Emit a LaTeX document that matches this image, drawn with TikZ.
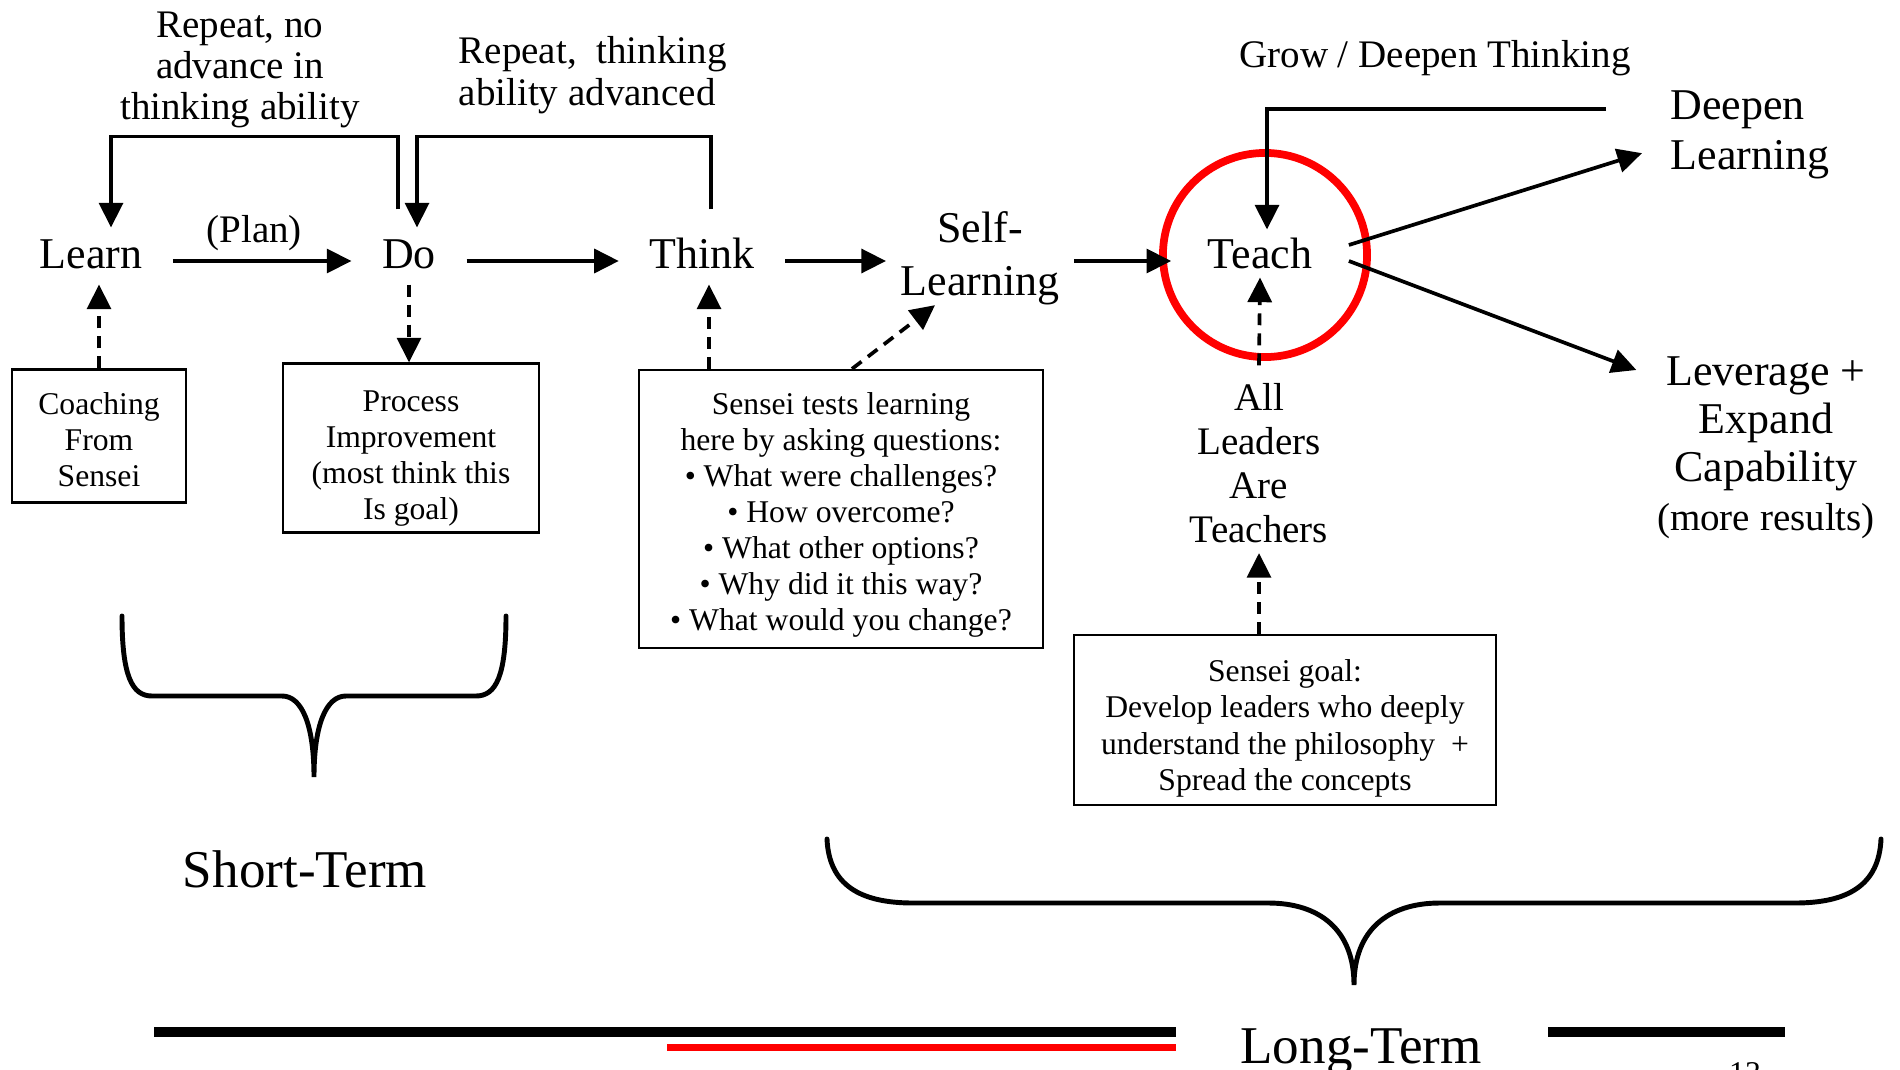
\documentclass[tikz,border=0pt]{standalone}
\usepackage{fontspec}
\setmainfont{Liberation Serif}
\usetikzlibrary{arrows.meta,calc}
\begin{document}
\begin{tikzpicture}[x=0.01cm,y=-0.01cm,
  stage/.style={font=\fontsize{12.5}{14.8}\selectfont, inner xsep=0.3cm, inner ysep=0pt,
    text height=8.5pt, text depth=4.5pt},
  bigtxt/.style={font=\fontsize{12.5}{14.5}\selectfont, inner sep=0pt},
  labtxt/.style={font=\fontsize{11.1}{11.4}\selectfont, inner sep=0pt},
  boxtxt/.style={draw, line width=0.6pt, inner sep=0pt, align=center,
    font=\fontsize{9}{10.25}\selectfont},
  termtxt/.style={font=\fontsize{15.1}{17}\selectfont, inner sep=0pt},
  arr/.style={line width=1.05pt, -{Triangle[length=7pt,width=6.8pt]}},
  darr/.style={arr, dash pattern=on 3.4pt off 2.3pt},
  brace/.style={line width=1.4pt, line cap=round},
  bar/.style={line width=2.85pt}
]
\useasboundingbox (0,0) rectangle (1900,1070);

% main row (multi-line nodes are placed by the baseline of their last line)
\node[stage] (learn) at (91,261) {Learn};
\node[stage] (do) at (409,261) {Do};
\node[stage] (think) at (702,261) {Think};
\node[bigtxt, align=center, anchor=base, inner xsep=0.14cm, font=\fontsize{12.5}{14.8}\selectfont] (self) at (980,295) {Self-\\Learning};
\node[stage, inner xsep=0.36cm] (teach) at (1260,261) {Teach};
\node[draw=red, line width=2.2pt, circle, minimum size=2.04cm, inner sep=0pt] (ring) at (1265,255) {};

\draw[arr] (learn.east) -- node[labtxt, anchor=base, xshift=-0.08cm, yshift=0.18cm] (plan) {(Plan)} (do.west);
\draw[arr] (do.east) -- (think.west);
\draw[arr] (think.east) -- (think.east -| self.west);
\draw[arr] (self.east |- teach.west) -- (teach.west);

% repeat loops
\node[labtxt, align=center, anchor=base, font=\fontsize{11.1}{11.7}\selectfont] (rep1) at (240,120) {Repeat, no\\advance in\\thinking ability};
\node[labtxt, align=left, anchor=base west, font=\fontsize{11.1}{12}\selectfont] (rep2) at (458,106) {Repeat,~ thinking\\ability advanced};
\draw[arr] ([xshift=-0.11cm,yshift=0.28cm]do.north) -- ++(0,-73) -| ([xshift=0.2cm,yshift=0.1cm]learn.north);
\draw[arr] ([xshift=0.09cm,yshift=0.28cm]think.north) -- ++(0,-73) -| ([xshift=0.08cm,yshift=0.1cm]do.north);

% boxes below the row
\node[boxtxt, minimum width=1.735cm, minimum height=1.33cm] (coach) at (99,436) {\rule{0pt}{8.2pt}Coaching\\From\\Sensei};
\node[boxtxt, minimum width=2.56cm, minimum height=1.69cm] (proc) at (411,448) {\rule{0pt}{11.9pt}Process\\Improvement\\(most think this\\Is goal)};
\node[boxtxt, minimum width=4.04cm, minimum height=2.78cm] (tests) at (841,509) {\rule{0pt}{9.6pt}Sensei tests learning\\here by asking questions:\\\textbullet{} What were challenges?\\\textbullet{} How overcome?\\\textbullet{} What other options?\\\textbullet{} Why did it this way?\\\textbullet{} What would you change?};

\draw[darr] (coach.north) -- (coach.north |- learn.south);
\draw[darr] (do.south) -- (do.south |- proc.north);
\draw[darr] ($(tests.north -| think.south)+(7,0)$) -- ($(think.south)+(7,0)$);
\draw[darr] ($(tests.north)+(11,0)$) -- ($(self.south)+(-45,0)$);

% teach: growth line and outputs
\node[labtxt, anchor=base] (grow) at (1435,68) {Grow / Deepen Thinking};
\coordinate (growend) at (1606,109);
\draw[arr] (growend) -| ([xshift=0.07cm,yshift=0.08cm]teach.north);

\node[bigtxt, align=left, anchor=base west] (deepen) at (1670,170) {Deepen\\Learning};
\node[bigtxt, align=center, anchor=base, font=\fontsize{12.5}{13.7}\selectfont] (lev) at (1766,530)
  {Leverage +\\Expand\\Capability\\{\fontsize{11.1}{13.7}\selectfont (more results)}};
\draw[arr] ([yshift=0.16cm]teach.east) -- ([xshift=-0.28cm,yshift=0.27cm]deepen.south west);
\draw[arr] (teach.east) -- ([xshift=-0.2cm,yshift=-0.14cm]lev.north west);

\node[labtxt, align=center, anchor=base, font=\fontsize{11.1}{12.5}\selectfont] (allt) at (1259,542) {All\\Leaders\\Are\\Teachers};
\draw[darr] ([yshift=0.17cm]allt.north) -- ([yshift=0.07cm]teach.south);
\node[boxtxt, minimum width=4.22cm, minimum height=1.70cm] (goal) at (1285,720) {\rule{0pt}{11pt}Sensei goal:\\Develop leaders who deeply\\understand the philosophy~ +\\Spread the concepts};
\draw[darr] (goal.north -| allt.south) -- ([yshift=-0.1cm]allt.south);

% braces
\draw[brace] (122,616) .. controls (122,676) and (132,696) .. (152,696) -- (282,696)
  .. controls (302,696) and (314,725) .. (314,777)
  .. controls (314,725) and (326,696) .. (346,696) -- (476,696)
  .. controls (496,696) and (506,676) .. (506,616);
\node[termtxt, anchor=base] (short) at (305,887) {Short-Term};

\draw[brace] (827,839) .. controls (829,885) and (860,903) .. (913,903) -- (1268,903)
  .. controls (1320,903) and (1354,930) .. (1354,985)
  .. controls (1354,930) and (1388,903) .. (1440,903) -- (1795,903)
  .. controls (1848,903) and (1879,885) .. (1881,839);
\node[termtxt, anchor=base] (long) at (1361,1063) {Long-Term};

% footer bars and page number
\draw[bar] (154,1032) -- (1176,1032);
\draw[bar] (1548,1032) -- (1785,1032);
\draw[line width=2pt, red] (667,1047.5) -- (1176,1047.5);
\node[font=\fontsize{9}{10}\selectfont, anchor=north, inner sep=0pt] (page) at (1745,1062) {13};
\end{tikzpicture}
\end{document}
